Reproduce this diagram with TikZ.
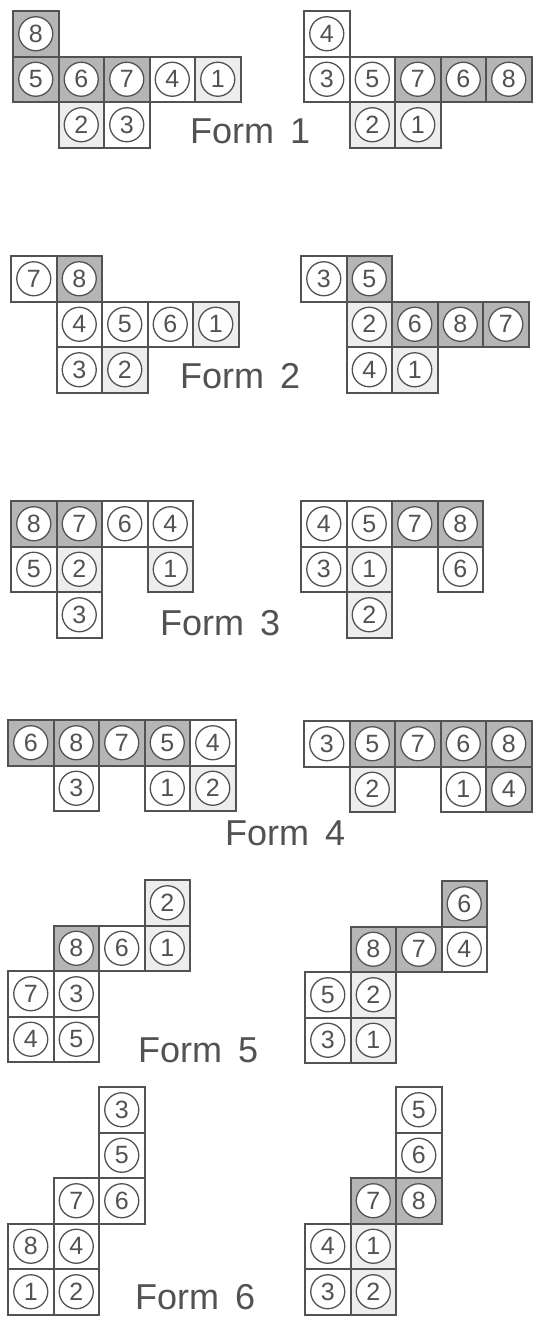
\documentclass[tikz,border=0pt]{standalone}
\usepackage{fontspec}
\setmainfont{Liberation Sans}

\colorlet{dk}{gray!58}
\colorlet{lt}{gray!14}
\colorlet{wt}{white}
\colorlet{ink}{black!68}

% one net: name, origin x, origin y, list col/row/number/shade
\newcommand{\net}[4]{%
    \foreach \c/\r/\n/\s in {#4}
    {
        \node[cell, fill=\s] (#1-\n) at ({#2+\c*45.5},{#3+\r*45.5}) {};
        \node[disc] (#1-\n-c) at (#1-\n) {\n};
    }
}

\begin{document}
\begin{tikzpicture}[x=1pt, y=-1pt,
    cell/.style={draw=ink, line width=2pt, rectangle, minimum size=45.5pt,
        inner sep=0pt, anchor=north west},
    disc/.style={draw=ink, line width=1.3pt, circle, fill=white, minimum size=34pt,
        inner sep=0pt, text=ink, font=\fontsize{25}{25}\selectfont},
    formlbl/.style={anchor=base west, inner sep=0pt, text=ink,
        font=\fontsize{36}{36}\selectfont}]
    \useasboundingbox (0,0) rectangle (534,1317);

    % Form 1
    \net{fa}{12}{10}{0/0/8/dk, 0/1/5/dk, 1/1/6/dk, 2/1/7/dk, 3/1/4/wt, 4/1/1/lt,
        1/2/2/lt, 2/2/3/wt}
    \net{fb}{303}{10}{0/0/4/wt, 0/1/3/wt, 1/1/5/wt, 2/1/7/dk, 3/1/6/dk, 4/1/8/dk,
        1/2/2/lt, 2/2/1/lt}
    \node[formlbl] (t1) at (190,143) {Form\hspace{16pt}1};

    % Form 2
    \net{fc}{10}{255}{0/0/7/wt, 1/0/8/dk, 1/1/4/wt, 2/1/5/wt, 3/1/6/wt, 4/1/1/lt,
        1/2/3/wt, 2/2/2/lt}
    \net{fd}{300}{255}{0/0/3/wt, 1/0/5/dk, 1/1/2/lt, 2/1/6/dk, 3/1/8/dk, 4/1/7/dk,
        1/2/4/wt, 2/2/1/lt}
    \node[formlbl] (t2) at (180,388) {Form\hspace{16pt}2};

    % Form 3
    \net{fe}{10}{500}{0/0/8/dk, 1/0/7/dk, 2/0/6/wt, 3/0/4/wt, 0/1/5/wt, 1/1/2/lt,
        3/1/1/lt, 1/2/3/wt}
    \net{ff}{300}{500}{0/0/4/wt, 1/0/5/wt, 2/0/7/dk, 3/0/8/dk, 0/1/3/wt, 1/1/1/lt,
        3/1/6/wt, 1/2/2/lt}
    \node[formlbl] (t3) at (160,635) {Form\hspace{16pt}3};

    % Form 4
    \net{fg}{7}{719}{0/0/6/dk, 1/0/8/dk, 2/0/7/dk, 3/0/5/dk, 4/0/4/wt, 1/1/3/wt,
        3/1/1/wt, 4/1/2/lt}
    \net{fh}{303}{720}{0/0/3/wt, 1/0/5/dk, 2/0/7/dk, 3/0/6/dk, 4/0/8/dk, 1/1/2/lt,
        3/1/1/wt, 4/1/4/dk}
    \node[formlbl] (t4) at (225,845) {Form\hspace{16pt}4};

    % Form 5
    \net{fi}{7}{879}{3/0/2/lt, 1/1/8/dk, 2/1/6/wt, 3/1/1/lt, 0/2/7/wt, 1/2/3/wt,
        0/3/4/wt, 1/3/5/wt}
    \net{fj}{304}{880}{3/0/6/dk, 1/1/8/dk, 2/1/7/dk, 3/1/4/wt, 0/2/5/wt, 1/2/2/lt,
        0/3/3/wt, 1/3/1/lt}
    \node[formlbl] (t5) at (138,1062) {Form\hspace{16pt}5};

    % Form 6
    \net{fk}{7}{1086}{2/0/3/wt, 2/1/5/wt, 1/2/7/wt, 2/2/6/wt, 0/3/8/wt, 1/3/4/wt,
        0/4/1/wt, 1/4/2/wt}
    \net{fl}{304}{1086}{2/0/5/wt, 2/1/6/wt, 1/2/7/dk, 2/2/8/dk, 0/3/4/wt, 1/3/1/lt,
        0/4/3/wt, 1/4/2/lt}
    \node[formlbl] (t6) at (135,1309) {Form\hspace{16pt}6};
\end{tikzpicture}
\end{document}
